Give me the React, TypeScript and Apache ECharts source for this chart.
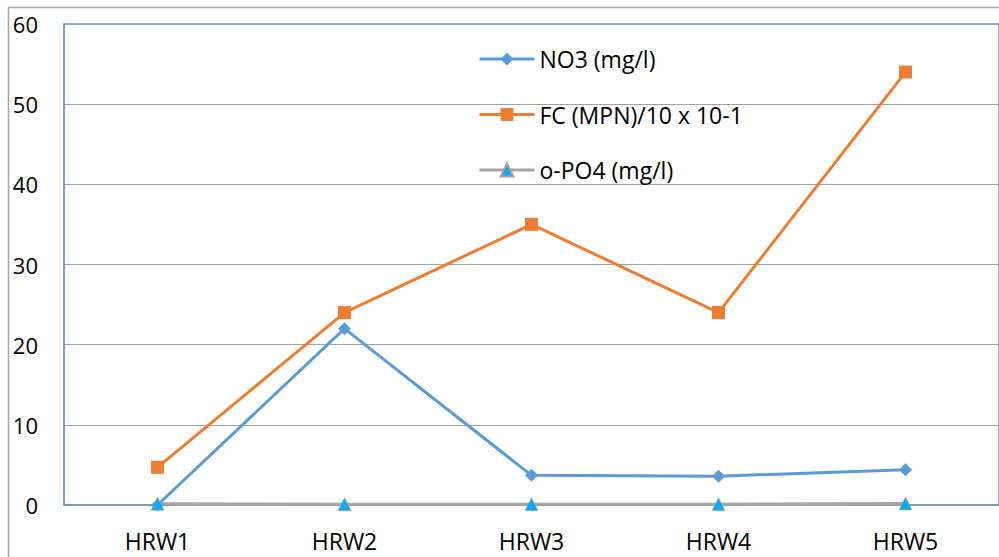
import React, { useEffect, useRef } from "react";
import * as echarts from "echarts";

const categories = ["HRW1", "HRW2", "HRW3", "HRW4", "HRW5"];
const no3Values = [0, 22, 3.7, 3.6, 4.4];
const fcValues = [4.7, 24, 35, 24, 54];
const po4Values = [0.15, 0.1, 0.1, 0.1, 0.2];
const yTicks = { min: 0, max: 60, interval: 10 };

export default function App() {
  const ref = useRef<HTMLDivElement>(null);
  useEffect(() => {
    document.body.style.margin = "0";
    if (!ref.current) return;
    const chart = echarts.init(ref.current, null, { renderer: "svg" });
    const font = "'Open Sans', 'Liberation Sans', sans-serif";
    chart.setOption({
      animation: false,
      backgroundColor: "#ffffff",
      textStyle: { fontFamily: font },
      graphic: [
        {
          type: "rect",
          shape: { x: 8.5, y: 7.5, width: 1000, height: 560 },
          style: { fill: "none", stroke: "#a6a6a6", lineWidth: 1.5 },
          silent: true,
          z: -1,
        },
      ],
      grid: {
        left: 64,
        top: 24,
        width: 937.5,
        height: 481,
        show: true,
        borderColor: "#5b9bd5",
        borderWidth: 1.5,
      },
      legend: {
        orient: "vertical",
        left: 478,
        top: 47,
        padding: 0,
        itemWidth: 55,
        itemHeight: 16,
        itemGap: 31.5,
        lineStyle: { width: 3 },
        textStyle: { fontSize: 23, lineHeight: 24, color: "#000", fontFamily: font },
        data: ["NO3 (mg/l)", "FC (MPN)/10 x 10-1", "o-PO4 (mg/l)"],
      },
      xAxis: {
        type: "category",
        data: categories,
        boundaryGap: true,
        axisLine: { show: true, lineStyle: { color: "#7f93a8", width: 1.5 } },
        axisTick: { show: false },
        axisLabel: { fontSize: 23, color: "#000", margin: 24, fontFamily: font },
        splitLine: { show: false },
      },
      yAxis: {
        type: "value",
        min: yTicks.min,
        max: yTicks.max,
        interval: yTicks.interval,
        axisLine: { show: true, lineStyle: { color: "#7f93a8", width: 1.5 } },
        axisTick: { show: false },
        axisLabel: { fontSize: 22, color: "#000", margin: 26, fontFamily: font },
        splitLine: { show: true, lineStyle: { color: "#a0a0a0", width: 1 } },
      },
      series: [
        {
          name: "NO3 (mg/l)",
          type: "line",
          data: no3Values,
          symbol: "diamond",
          symbolSize: 13,
          lineStyle: { color: "#5b9bd5", width: 3 },
          itemStyle: { color: "#5b9bd5" },
        },
        {
          name: "FC (MPN)/10 x 10-1",
          type: "line",
          data: fcValues,
          symbol: "rect",
          symbolSize: 13,
          lineStyle: { color: "#ed7d31", width: 3 },
          itemStyle: { color: "#ed7d31" },
        },
        {
          name: "o-PO4 (mg/l)",
          type: "line",
          data: po4Values,
          symbol: "triangle",
          symbolSize: 13,
          lineStyle: { color: "#a5a5a5", width: 3 },
          itemStyle: { color: "#12a8ec", borderColor: "#a5a5a5", borderWidth: 0.5 },
        },
      ],
    });
    return () => chart.dispose();
  }, []);
  return <div ref={ref} style={{ width: 999, height: 557 }} />;
}
